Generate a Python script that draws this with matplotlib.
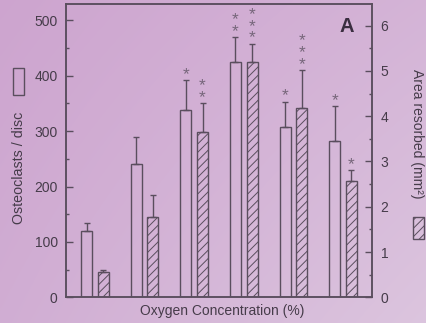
import numpy as np
import matplotlib
matplotlib.use("Agg")
import matplotlib.pyplot as plt
from matplotlib.patches import Rectangle

# ---- data ----
groups = np.arange(6)
osteoclasts = [120, 241, 338, 425, 307, 282]
osteoclasts_err = [14, 48, 54, 45, 46, 63]
area = [0.56, 1.78, 3.65, 5.20, 4.17, 2.57]
area_err = [0.05, 0.49, 0.63, 0.40, 0.85, 0.23]
stars_open = ["", "", "*", "**", "*", "*"]
stars_hatch = ["", "", "**", "***", "***", "*"]
left_ticks = [0, 100, 200, 300, 400, 500]
right_ticks = [0, 1, 2, 3, 4, 5, 6]

plt.rcParams['font.family'] = ['Liberation Sans', 'DejaVu Sans']
plt.rcParams['hatch.linewidth'] = 0.7

W, H = 427, 323
fig = plt.figure(figsize=(W / 100, H / 100), dpi=100)

# background gradient
bg = fig.add_axes([0, 0, 1, 1], zorder=-10)
tl = np.array([0.805, 0.645, 0.812])
tr = np.array([0.832, 0.705, 0.842])
bl = np.array([0.818, 0.680, 0.828])
br = np.array([0.862, 0.772, 0.872])
u = np.linspace(0, 1, 200)[None, :, None]
v = np.linspace(0, 1, 150)[:, None, None]
img = (1 - v) * ((1 - u) * tl + u * tr) + v * ((1 - u) * bl + u * br)
bg.imshow(img, aspect='auto', extent=[0, 1, 0, 1], interpolation='bilinear')
bg.axis('off')

edge = '#5a4e5e'
txt = '#463c4a'
starc = '#76667a'

ax = fig.add_axes([66 / W, 1 - 297.3 / H, (372.3 - 66) / W, (297.3 - 4.3) / H])
ax.set_facecolor('none')
ax2 = ax.twinx()

off, bw = 0.168, 0.222
ax.bar(groups - off, osteoclasts, width=bw, facecolor='none', edgecolor=edge, linewidth=1.0, zorder=3)
ax.errorbar(groups - off, osteoclasts, yerr=[np.zeros(6), osteoclasts_err], fmt='none',
            ecolor=edge, elinewidth=1.0, capsize=2.5, capthick=1.0, zorder=3)
ax2.bar(groups + off, area, width=bw, facecolor='none', edgecolor=edge, linewidth=1.0,
        hatch='////', zorder=3)
ax2.errorbar(groups + off, area, yerr=[np.zeros(6), area_err], fmt='none',
             ecolor=edge, elinewidth=1.0, capsize=2.5, capthick=1.0, zorder=3)

ax.set_xlim(-0.585, 5.59)
ax.set_ylim(0, 529)
ax2.set_ylim(0, 6.47)
ax.set_xticks([])
ax.set_yticks(left_ticks)
ax.set_yticks(np.arange(50, 529, 100), minor=True)
ax2.set_yticks(right_ticks)
ax2.set_yticks(np.arange(0.5, 6.47, 1.0), minor=True)

for a in (ax, ax2):
    for s in a.spines.values():
        s.set_color(edge)
        s.set_linewidth(1.1)
ax.tick_params(axis='y', which='major', direction='in', length=5, width=1, color=edge,
               labelsize=10, labelcolor=txt, pad=6)
ax.tick_params(axis='y', which='minor', direction='in', length=2.5, width=1, color=edge)
ax2.tick_params(axis='y', which='major', direction='in', length=5, width=1, color=edge,
                labelsize=10, labelcolor=txt, pad=6)
ax2.tick_params(axis='y', which='minor', direction='in', length=2.5, width=1, color=edge)

# significance stars
for a, xs, tops, marks in ((ax, groups - off, np.add(osteoclasts, osteoclasts_err), stars_open),
                           (ax2, groups + off, np.add(area, area_err), stars_hatch)):
    for x, top, s in zip(xs, tops, marks):
        if s:
            a.annotate('\n'.join(s), (x, top), xytext=(0, -1.2), textcoords='offset points',
                       ha='center', va='bottom', fontsize=12.5, color=starc, linespacing=0.72)

fig.text(347 / W, 1 - 27 / H, 'A', fontsize=14.5, fontweight='bold', color='#3a2e40',
         ha='center', va='center')

fig.text(222.5 / W, 1 - 311.5 / H, 'Oxygen Concentration (%)', ha='center', va='center',
         fontsize=10, color=txt)
fig.text(19 / W, 1 - 168 / H, 'Osteoclasts / disc', rotation=90, ha='center', va='center',
         fontsize=10.3, color=txt)
fig.text(417 / W, 1 - 134 / H, 'Area resorbed (mm²)', rotation=270, ha='center', va='center',
         fontsize=10, color=txt)

fig.patches.append(Rectangle((13.3 / W, 1 - 95 / H), 11 / W, 27 / H, transform=fig.transFigure,
                             facecolor='none', edgecolor=edge, linewidth=1.0))
fig.patches.append(Rectangle((413.3 / W, 1 - 239 / H), 11 / W, 22 / H, transform=fig.transFigure,
                             facecolor='none', edgecolor=edge, linewidth=1.0, hatch='////'))

fig.savefig('out.png', dpi=100)
